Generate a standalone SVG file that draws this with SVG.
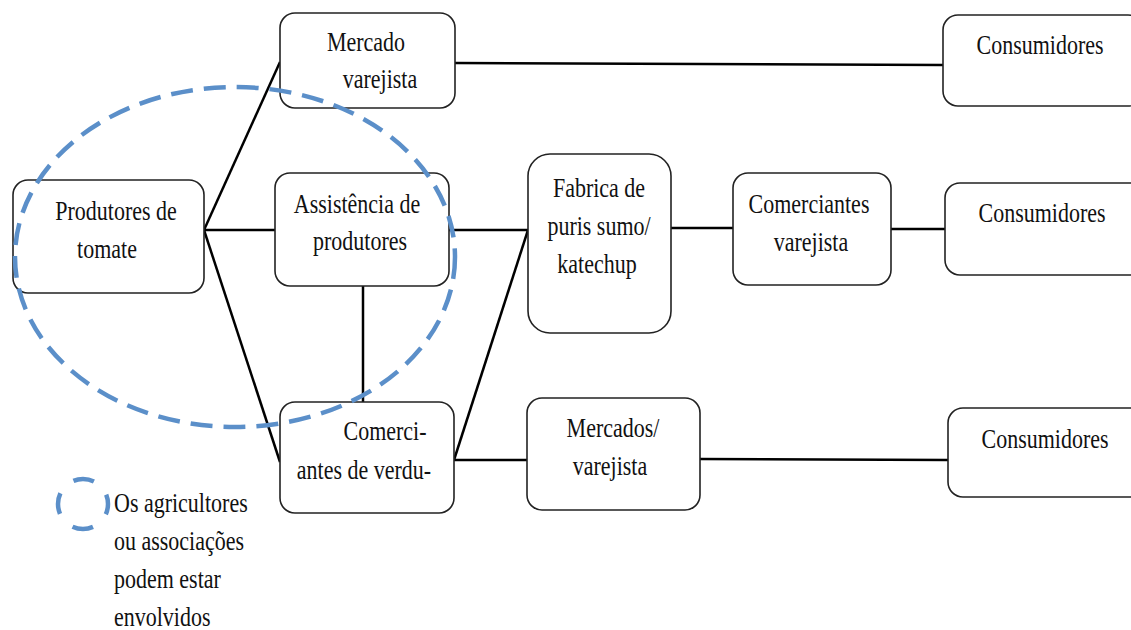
<svg xmlns="http://www.w3.org/2000/svg" width="1131" height="630" viewBox="0 0 1131 630">
<style>
.box{fill:#fff;stroke:#222;stroke-width:1.6}
.t{font-family:'Liberation Serif','Times New Roman',serif;font-size:22px;fill:#111;text-anchor:middle}
.tl{font-family:'Liberation Serif','Times New Roman',serif;font-size:22px;fill:#111}
.c{stroke:#000;stroke-width:2.5;fill:none}
.dash{fill:none;stroke:#5b8fc9;stroke-width:4.5}
</style>
<rect width="1131" height="630" fill="#fff"/>
<g id="connectors">
<line class="c" x1="204" y1="230" x2="280" y2="62"/>
<line class="c" x1="204" y1="230" x2="275" y2="230"/>
<line class="c" x1="204" y1="230" x2="280" y2="462"/>
<line class="c" x1="363" y1="286" x2="363" y2="402"/>
<line class="c" x1="455" y1="63" x2="943" y2="65"/>
<line class="c" x1="449" y1="230" x2="528" y2="230"/>
<line class="c" x1="454" y1="460" x2="528" y2="230"/>
<line class="c" x1="671" y1="228" x2="733" y2="228"/>
<line class="c" x1="891" y1="229" x2="945" y2="229"/>
<line class="c" x1="454" y1="460" x2="527" y2="460"/>
<line class="c" x1="700" y1="459" x2="948" y2="460"/>
</g>
<g id="produtores">
<rect class="box" x="13" y="180" width="191" height="113" rx="15"/>
<text class="t" transform="translate(116,220) scale(1,1.2)">Produtores de</text>
<text class="t" transform="translate(107,258) scale(1,1.2)">tomate</text>
</g>
<g id="mercado-varejista">
<rect class="box" x="280" y="13" width="175" height="95" rx="15"/>
<text class="t" transform="translate(366,51) scale(1,1.2)">Mercado</text>
<text class="t" transform="translate(380,88) scale(1,1.2)">varejista</text>
</g>
<g id="assistencia">
<rect class="box" x="275" y="173" width="174" height="113" rx="15"/>
<text class="t" transform="translate(357,213) scale(1,1.2)">Assistência de</text>
<text class="t" transform="translate(360,250) scale(1,1.2)">produtores</text>
</g>
<g id="comerciantes-verdura">
<rect class="box" x="280" y="402" width="174" height="111" rx="15"/>
<text class="t" transform="translate(385,440) scale(1,1.2)">Comerci-</text>
<text class="t" transform="translate(364,479) scale(1,1.2)">antes de verdu-</text>
</g>
<g id="fabrica">
<rect class="box" x="528" y="154" width="143" height="179" rx="22"/>
<text class="t" transform="translate(599,197) scale(1,1.2)">Fabrica de</text>
<text class="t" transform="translate(599,235) scale(1,1.2)">puris sumo/</text>
<text class="t" transform="translate(597,273) scale(1,1.2)">katechup</text>
</g>
<g id="comerciantes-varejista">
<rect class="box" x="733" y="173" width="158" height="112" rx="15"/>
<text class="t" transform="translate(809,213) scale(1,1.2)">Comerciantes</text>
<text class="t" transform="translate(811,251) scale(1,1.2)">varejista</text>
</g>
<g id="mercados-varejista">
<rect class="box" x="527" y="398" width="173" height="112" rx="15"/>
<text class="t" transform="translate(613,437) scale(1,1.2)">Mercados/</text>
<text class="t" transform="translate(610,475) scale(1,1.2)">varejista</text>
</g>
<g id="consumidores-1">
<rect class="box" x="943" y="15" width="200" height="91" rx="15"/>
<text class="t" transform="translate(1040,54) scale(1,1.2)">Consumidores</text>
</g>
<g id="consumidores-2">
<rect class="box" x="945" y="183" width="200" height="92" rx="15"/>
<text class="t" transform="translate(1042,222) scale(1,1.2)">Consumidores</text>
</g>
<g id="consumidores-3">
<rect class="box" x="948" y="408" width="200" height="89" rx="15"/>
<text class="t" transform="translate(1045,448) scale(1,1.2)">Consumidores</text>
</g>
<g id="grupo-agricultores">
<ellipse class="dash" cx="235" cy="257" rx="220" ry="170" stroke-dasharray="22 11"/>
</g>
<g id="legenda">
<circle class="dash" cx="83" cy="504" r="25" stroke-dasharray="21 18.27" stroke-dashoffset="10.5"/>
<text class="tl" transform="translate(114,512) scale(1,1.2)">Os agricultores</text>
<text class="tl" transform="translate(114,550) scale(1,1.2)">ou associações</text>
<text class="tl" transform="translate(114,588) scale(1,1.2)">podem estar</text>
<text class="tl" transform="translate(114,626) scale(1,1.2)">envolvidos</text>
</g>
</svg>
